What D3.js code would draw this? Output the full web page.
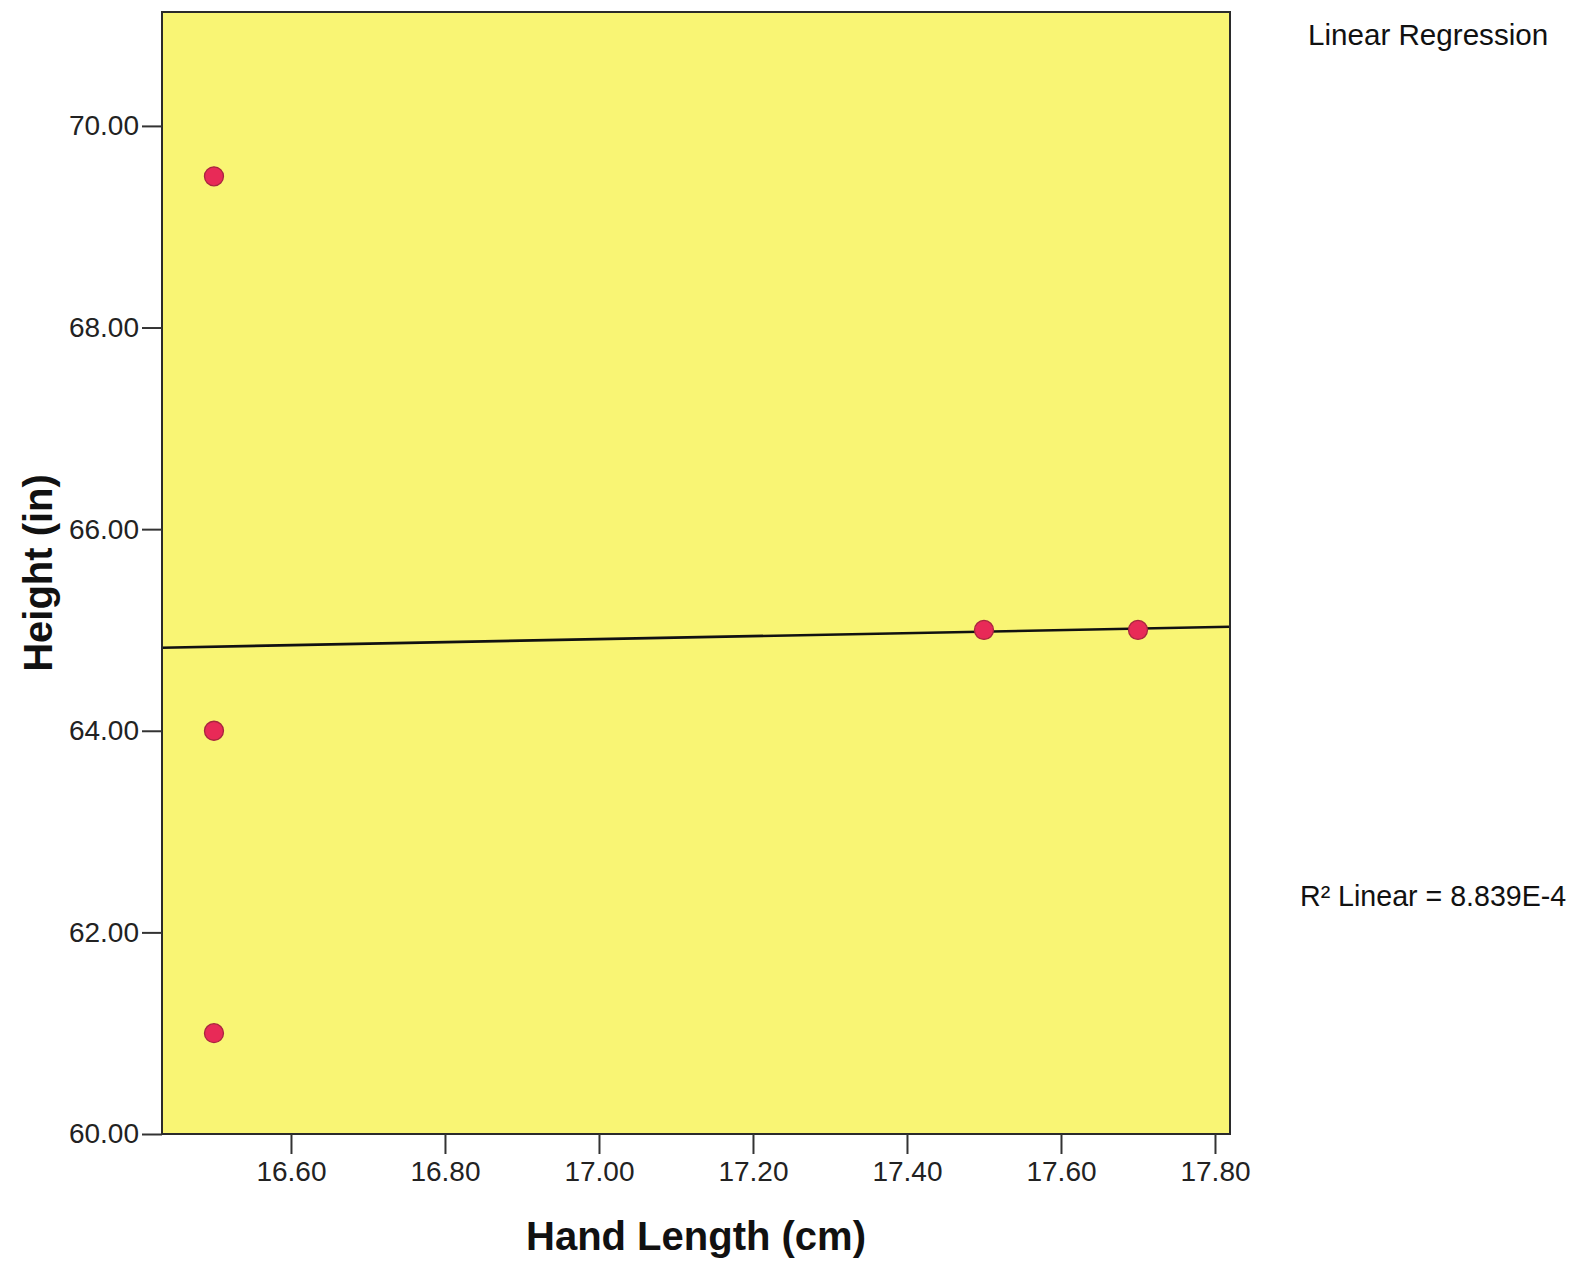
<!DOCTYPE html>
<html>
<head>
<meta charset="utf-8">
<script src="https://cdn.jsdelivr.net/npm/d3@7"></script>
<style>
  html, body { margin: 0; padding: 0; background: #ffffff; }
  svg { display: block; font-family: "Liberation Sans", Arial, sans-serif; }
</style>
</head>
<body>
<svg id="chart" width="1575" height="1262"></svg>
<script>
// ---- data ----
const handLength = [16.5, 16.5, 16.5, 17.5, 17.7];
const height     = [69.5, 64.0, 61.0, 65.0, 65.0];
const xTicks = [16.6, 16.8, 17.0, 17.2, 17.4, 17.6, 17.8];
const yTicks = [60, 62, 64, 66, 68, 70];
const xDomain = [16.4325, 17.8195];
const yDomain = [60, 71.13];
const xTitle = "Hand Length (cm)";
const yTitle = "Height (in)";
const legendTitle = "Linear Regression";

// ---- layout ----
const plot = { left: 162, right: 1230, top: 12, bottom: 1134 };
const svg = d3.select("#chart");

const x = d3.scaleLinear().domain(xDomain).range([plot.left, plot.right]);
const y = d3.scaleLinear().domain(yDomain).range([plot.bottom, plot.top]);

// plot background
svg.append("rect")
  .attr("x", plot.left).attr("y", plot.top)
  .attr("width", plot.right - plot.left).attr("height", plot.bottom - plot.top)
  .attr("fill", "#f9f574");

// regression
const n = handLength.length;
const mx = d3.mean(handLength), my = d3.mean(height);
let sxx = 0, sxy = 0, syy = 0;
for (let i = 0; i < n; i++) {
  const dx = handLength[i] - mx, dy = height[i] - my;
  sxx += dx * dx; sxy += dx * dy; syy += dy * dy;
}
const slope = sxy / sxx, intercept = my - slope * mx;
const r2 = (sxy * sxy) / (sxx * syy);

svg.append("line")
  .attr("x1", x(xDomain[0])).attr("y1", y(intercept + slope * xDomain[0]))
  .attr("x2", x(xDomain[1])).attr("y2", y(intercept + slope * xDomain[1]))
  .attr("stroke", "#111").attr("stroke-width", 2.6);

// points
svg.append("g").selectAll("circle")
  .data(handLength.map((v, i) => ({ x: v, y: height[i] })))
  .join("circle")
  .attr("cx", d => x(d.x)).attr("cy", d => y(d.y))
  .attr("r", 9.5)
  .attr("fill", "#e82a57")
  .attr("stroke", "#a8263f")
  .attr("stroke-width", 1.3);

// frame
svg.append("rect")
  .attr("x", plot.left).attr("y", plot.top)
  .attr("width", plot.right - plot.left).attr("height", plot.bottom - plot.top)
  .attr("fill", "none").attr("stroke", "#2b2b2b").attr("stroke-width", 2);

// axes
const fmt = d3.format(".2f");
const xAxis = svg.append("g")
  .attr("transform", `translate(0,${plot.bottom})`)
  .call(d3.axisBottom(x).tickValues(xTicks).tickFormat(fmt).tickSize(20).tickPadding(7));
const yAxis = svg.append("g")
  .attr("transform", `translate(${plot.left},0)`)
  .call(d3.axisLeft(y).tickValues(yTicks).tickFormat(fmt).tickSize(20).tickPadding(3));
[xAxis, yAxis].forEach(a => {
  a.select(".domain").remove();
  a.selectAll(".tick line").attr("stroke", "#333").attr("stroke-width", 2);
  a.selectAll(".tick text")
    .attr("fill", "#222")
    .style("font-family", "'Liberation Sans', Arial, sans-serif")
    .style("font-size", "28px");
});

// axis titles
svg.append("text")
  .attr("x", (plot.left + plot.right) / 2).attr("y", 1250)
  .attr("text-anchor", "middle")
  .style("font-size", "40px").style("font-weight", "bold")
  .attr("fill", "#111")
  .text(xTitle);
svg.append("text")
  .attr("transform", `translate(52,${(plot.top + plot.bottom) / 2}) rotate(-90)`)
  .attr("text-anchor", "middle")
  .style("font-size", "40px").style("font-weight", "bold")
  .attr("fill", "#111")
  .text(yTitle);

// legend / annotation
svg.append("text")
  .attr("x", 1308).attr("y", 45)
  .style("font-size", "29.6px").attr("fill", "#111")
  .text(legendTitle);

const r2Text = d3.format(".3e")(r2).replace("e", "E");
svg.append("text")
  .attr("x", 1300).attr("y", 906)
  .style("font-size", "28.6px").attr("fill", "#111")
  .text("R\u00B2 Linear = " + r2Text);
</script>
</body>
</html>
